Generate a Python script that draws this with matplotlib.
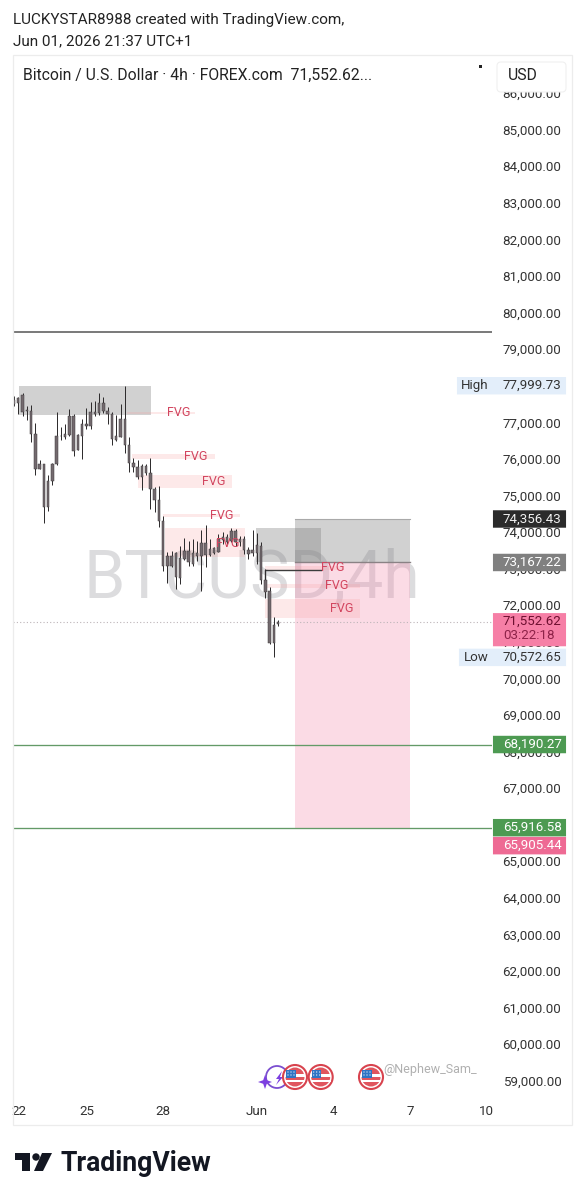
import matplotlib
matplotlib.use("Agg")
import matplotlib.pyplot as plt
from matplotlib.patches import Rectangle, FancyBboxPatch, Circle, Polygon
from matplotlib.transforms import blended_transform_factory

plt.rcParams['font.family'] = ['Roboto', 'DejaVu Sans']

highs = [77718,77700,77810,77454,77481,76971,75969,75859,75568,75878,77272,76862,76953,77363,77226,76680,77090,77381,77545,77591,77791,77700,77409,77272,77199,77500,78000,76588,76023,75969,75859,75859,76014,75240,75249,74447,73444,73472,73444,73609,73836,73745,73809,73745,74055,74201,73809,73581,73946,73991,73946,74110,74082,73900,73900,73581,74055,73964,73718,72989,72506,71667,71595]
body_tops = [77609,77664,77755,77336,77299,76680,75859,75859,75404,75859,76634,76634,76680,77181,77181,76652,76953,76953,77272,77272,77518,77518,77317,77226,76616,77081,77081,76370,75878,75768,75814,75814,75604,75176,74875,74292,73353,73353,73417,73290,73490,73490,73426,73417,73691,73691,73536,73554,73809,73855,73873,74037,74037,73809,73809,73508,73508,73645,73627,72688,72378,71467,71552]
body_bottoms = [77500,77518,77272,77299,76680,75723,75723,74675,74693,75385,75859,76616,76607,76661,76224,76242,76634,76907,76907,77226,77245,77317,77226,76543,76525,76607,76370,75878,75768,75495,75495,75604,75176,74875,74292,73080,73080,73062,72779,72743,73262,73171,73126,73335,73335,73381,73381,73426,73463,73782,73736,73763,73718,73718,73508,73399,73417,73417,72688,72351,70957,70957,71485]
lows = [77454,77226,77181,77062,76452,75559,75714,74237,74565,75285,75841,76515,76543,76634,76087,76242,75996,76816,76816,77181,77208,77245,76953,76379,76479,76588,76151,75650,75632,75449,75158,75568,74629,74538,74128,72925,72606,73034,72442,72579,73235,73080,73080,73217,72378,73053,73353,73399,73444,73672,73672,73718,73627,73627,73399,73262,73353,73126,72579,72196,70938,70574,71440]

price_ticks = list(range(59000, 87000, 1000))
date_labels = ['22', '25', '28', 'Jun', '4', '7', '10']
date_positions = [1.2, 17.1, 35.0, 57.0, 74.9, 93.0, 110.8]

fvg_starts = [26.5, 27.7, 29.1, 35.0, 35.4, 58.9, 58.9, 58.9]
fvg_ends = [42.5, 47.2, 51.2, 53.0, 54.2, 77.5, 81.2, 81.2]
fvg_lows = [77235, 76005, 75212, 74419, 73326, 72970, 72478, 71658]
fvg_highs = [77290, 76142, 75568, 74502, 74119, 73080, 72587, 72178]
fvg_label_x = [38.7, 42.7, 46.8, 48.8, 50.2, 74.8, 75.8, 76.8]
fvg_label_y = [77262, 76074, 75390, 74460, 73681, 73025, 72532, 71918]

hlines_dark = [79477]
tp_levels = [68190.27, 65916.58]
last_price = 71552.62
entry_price = 73167.22
stop_price = 74356.43
target_price = 65905.44
high_price = 77999.73
low_price = 70572.65

fig = plt.figure(figsize=(5.84, 12), dpi=100, facecolor='white')
ax = fig.add_axes([13/584, 101.3/1200, 479/584, 1044/1200])
ax.set_xlim(-0.235, 112.2)
ax.set_ylim(58507, 87050)
for s in ax.spines.values():
    s.set_visible(False)
ax.yaxis.tick_right()
ax.set_yticks(price_ticks)
ax.set_yticklabels([f"{v:,.2f}" for v in price_ticks], fontsize=9.6, color='#333333')
ax.tick_params(axis='y', length=0, pad=7.6)
ax.set_xticks(date_positions)
ax.set_xticklabels(date_labels, fontsize=9.6, color='#333333')
ax.tick_params(axis='x', length=0, pad=4.6)

ov = fig.add_axes([0, 0, 1, 1], zorder=10)
ov.set_xlim(0, 584)
ov.set_ylim(1200, 0)
ov.axis('off')
ov.patch.set_alpha(0)

# watermark
ax.text(55.9, 72700, 'BTCUSD,4h', fontsize=47.7, color='#dcdcde', ha='center', va='center', zorder=0.5)

# zones
ax.add_patch(Rectangle((1.17, 77208), 31.03, 792, fc='#808080', alpha=0.36, ec='none', zorder=1))
ax.add_patch(Rectangle((66, entry_price), 27, stop_price-entry_price, fc='#808080', alpha=0.36, ec='none', zorder=1))
ax.add_patch(Rectangle((56.8, entry_price), 15.2, 74119-entry_price, fc='#808080', alpha=0.36, ec='none', zorder=1))
ax.add_patch(Rectangle((66, target_price), 27, entry_price-target_price, fc='#f48fb1', alpha=0.32, ec='none', zorder=1))
for a, b, lo, hi in zip(fvg_starts, fvg_ends, fvg_lows, fvg_highs):
    ax.add_patch(Rectangle((a, lo), b-a, hi-lo, fc='#f7a0a0', alpha=0.23, ec='none', zorder=1.2))

# lines
ax.axhline(hlines_dark[0], color='#555555', lw=1.1, zorder=2)
for lv in tp_levels:
    ax.axhline(lv, color='#639a67', lw=0.95, zorder=2)
ax.axhline(last_price, color='#bdb4b8', lw=0.8, ls=(0, (1, 2)), zorder=1.5)
ax.plot([66, 93], [entry_price, entry_price], color='#8a8285', lw=1.0, zorder=2)
ax.plot([66, 93], [stop_price, stop_price], color='#a9a9a9', lw=0.8, zorder=2)
ax.plot([58.9, 58.9, 72], [72670, 72970, 72970], color='#3c3c3c', lw=1.0, zorder=2)

# candles
xs = list(range(len(highs)))
ax.vlines(xs, lows, highs, color='#2f2d2e', lw=0.72, zorder=3)
ax.bar(xs, [t-b for t, b in zip(body_tops, body_bottoms)], bottom=body_bottoms, width=0.58,
       color='#736a6e', edgecolor='#3f3c3d', linewidth=0.35, zorder=3.2)

for x, y in zip(fvg_label_x, fvg_label_y):
    ax.text(x, y, 'FVG', color='#d2455f', fontsize=9, ha='center', va='center', zorder=4)

# price tags
tr = blended_transform_factory(ov.transData, ax.transData)
def tag(price, text, fc, tc, x0=493, h=480):
    ax.add_patch(FancyBboxPatch((x0+1, price-h/2+30), 566-x0-2, h-60, boxstyle='round,pad=0', fc=fc, ec=fc,
                                lw=1.5, transform=tr, clip_on=False, zorder=6))
    ax.text(503, price, text, color=tc, fontsize=9.6, va='center', ha='left', transform=tr, clip_on=False, zorder=7)

tag(high_price, '77,999.73', '#e3eefa', '#333333', x0=457)
ax.text(461, high_price, 'High', color='#333333', fontsize=9.6, va='center', transform=tr, clip_on=False, zorder=7)
tag(low_price, '70,572.65', '#e3eefa', '#333333', x0=459)
ax.text(464, low_price, 'Low', color='#333333', fontsize=9.6, va='center', transform=tr, clip_on=False, zorder=7)
tag(stop_price, '74,356.43', '#2b2b2b', '#f0f0f0')
tag(entry_price, '73,167.22', '#808080', '#ffffff')
tag(tp_levels[0], '68,190.27', '#4d9a52', '#ffffff')
tag(tp_levels[1], '65,916.58', '#4d9a52', '#ffffff')
tag(65425, '65,905.44', '#ee6a94', '#ffffff')
ax.add_patch(FancyBboxPatch((494, 70905), 71, 850, boxstyle='round,pad=0', fc='#f67fa6', ec='#f67fa6', lw=1.5,
                            transform=tr, clip_on=False, zorder=6))
ax.text(503, last_price, '71,552.62', color='#6e0f30', fontsize=9.6, va='center', transform=tr, clip_on=False, zorder=7)
ax.text(503, 71166, '03:22:18', color='#8e2248', fontsize=9.6, va='center', transform=tr, clip_on=False, zorder=7)

# chrome and header
ov.add_patch(Rectangle((12.5, 54.5), 559.5, 1070.5, fc='none', ec='#ececec', lw=0.9))
ov.text(13, 20, 'LUCKYSTAR8988 created with TradingView.com,', fontsize=11, color='#222222', va='center')
ov.text(13, 41, 'Jun 01, 2026 21:37 UTC+1', fontsize=11, color='#222222', va='center')
ov.text(23, 75, 'Bitcoin / U.S. Dollar · 4h · FOREX.com  71,552.62...', fontsize=11.3, color='#222222', va='center')
ov.add_patch(Rectangle((479, 65), 2.5, 2.5, fc='#222222', ec='none'))
ov.add_patch(FancyBboxPatch((497, 62), 69, 30, boxstyle='round,pad=0,rounding_size=4', fc='white', ec='#f0f0f0', lw=0.8))
ov.text(508, 75, 'USD', fontsize=11.3, color='#222222', va='center')

# event icons
ov.add_patch(Circle((277, 1077), 11, fc='white', ec='#7b4fd0', lw=1.3))
ov.add_patch(Polygon([(265, 1075), (266.8, 1080.2), (272, 1082), (266.8, 1083.8), (265, 1089),
                      (263.2, 1083.8), (258, 1082), (263.2, 1080.2)], fc='#7c3fe0', ec='none'))
ov.add_patch(Polygon([(282, 1071), (276, 1079), (279, 1079), (276, 1085), (283, 1077), (280, 1077)], fc='#7c3fe0', ec='none'))
for cx in (295, 320.7, 371):
    ov.add_patch(Circle((cx, 1077), 12, fc='white', ec='#d8434e', lw=1.5, zorder=3))
    ov.add_patch(Circle((cx, 1077), 9.5, fc='#e0555e', ec='none', zorder=3))
    ov.add_patch(Rectangle((cx-10, 1073.5), 20, 3, fc='white', ec='none', zorder=3.1))
    ov.add_patch(Rectangle((cx-10, 1079.7), 20, 2.3, fc='white', ec='none', zorder=3.1))
    ov.add_patch(Rectangle((cx-9, 1070), 9.5, 8, fc='#2f74c4', ec='none', zorder=3.2))
    for dx in (-7, -4, -1):
        for dy in (1072, 1075):
            ov.add_patch(Circle((cx+dx, dy), 0.6, fc='white', ec='none', zorder=3.3))
ov.text(383, 1070, '@Nephew_Sam_', fontsize=9, color='#b0b0b0', va='center', zorder=2)

# logo
ov.add_patch(Polygon([(15, 1153), (30, 1153), (30, 1171), (22, 1171), (22, 1160), (15, 1160)], fc='#131722', ec='none'))
ov.add_patch(Circle((36, 1157), 3.7, fc='#131722', ec='none'))
ov.add_patch(Polygon([(42, 1153), (52, 1153), (43, 1171), (34, 1171)], fc='#131722', ec='none'))
ov.text(60.5, 1171, 'TradingView', fontsize=19.2, fontweight='bold', color='#131722', va='baseline')

fig.savefig('out.png', dpi=100, facecolor='white')
